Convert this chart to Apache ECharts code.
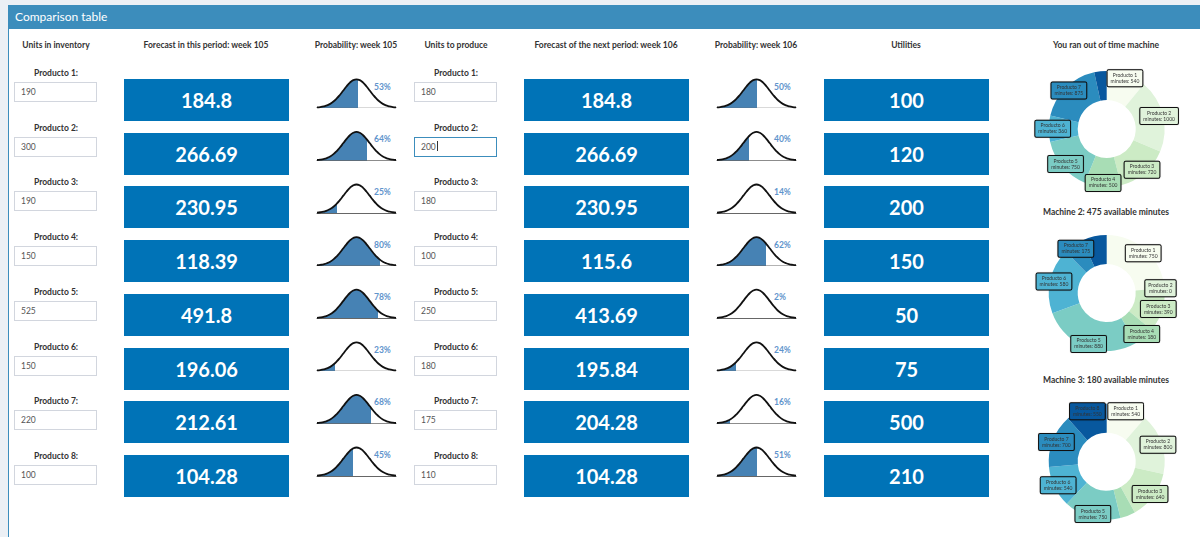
<!DOCTYPE html>
<html>
<head>
<meta charset="utf-8">
<script src="https://cdn.jsdelivr.net/npm/echarts@6/dist/echarts.min.js"></script>
<style>
  body { margin: 0; width: 1200px; height: 537px; overflow: hidden; background: #ecf0f5; position: relative;
         font-family: Lato, "Open Sans", sans-serif; color: #333; }
  .box { position: absolute; left: 8px; top: 5px; width: 1200px; height: 540px; background: #fff;
         border-left: 1px solid #3c8dbc; }
  .box-header { height: 24px; background: #3c8dbc; color: #fff; font-size: 12px; line-height: 24px; padding-left: 6px; }
  .abs { position: absolute; white-space: nowrap; }
  .hd { font-weight: bold; font-size: 8.5px; width: 240px; margin-left: -120px; text-align: center; line-height: 12px; }
  .lbl { font-weight: bold; font-size: 8.5px; width: 100px; margin-left: -50px; text-align: center; line-height: 12px; }
  .inp { border: 1px solid #d2d6de; background: #fff; font-size: 8.5px; color: #555;
         line-height: 18px; padding-left: 6px; box-sizing: border-box; width: 83px; height: 20px; }
  .inp.focus { border-color: #3c8dbc; }
  .caret { display: inline-block; width: 1px; height: 10px; background: #333; vertical-align: -1px; margin-left: 1px; }
  .val { width: 165px; height: 42px; background: #0073b7; color: #fff; font-weight: bold; font-size: 20px;
         line-height: 42px; text-align: center; }
  .pct { font-weight: bold; font-size: 8.5px; color: #5f94cc; line-height: 10px; }
  #chart { position: absolute; left: 0; top: 0; width: 1200px; height: 537px; z-index: 2; pointer-events: none; }
</style>
</head>
<body>
<div class="box"><div class="box-header">Comparison table</div></div>
<div id="layer"></div>
<div id="chart"></div>
<script>
// datos de la tabla
var products = ['Producto 1', 'Producto 2', 'Producto 3', 'Producto 4', 'Producto 5', 'Producto 6', 'Producto 7', 'Producto 8'];
var inventory = [190, 300, 190, 150, 525, 150, 220, 100];
var forecast105 = ['184.8', '266.69', '230.95', '118.39', '491.8', '196.06', '212.61', '104.28'];
var prob105 = [53, 64, 25, 80, 78, 23, 68, 45];
// hasta donde llega el sombreado de cada curva (en desviaciones)
var shade105 = [0.1, 0.8, -1.5, 1.75, 1.65, -1.6, 1.1, -0.3];
var produce = [180, 200, 180, 100, 250, 180, 175, 110];
var forecast106 = ['184.8', '266.69', '230.95', '115.6', '413.69', '195.84', '204.28', '104.28'];
var prob106 = [50, 40, 14, 62, 2, 24, 16, 51];
var shade106 = [0, -0.55, -2.6, 0.7, -4, -1.55, -2.0, 0.05];
var utilities = [100, 120, 200, 150, 50, 75, 500, 210];

// curva normal de referencia
var densityX = [-3, -2.75, -2.5, -2.25, -2, -1.75, -1.5, -1.25, -1, -0.75, -0.5, -0.25, 0,
                0.25, 0.5, 0.75, 1, 1.25, 1.5, 1.75, 2, 2.25, 2.5, 2.75, 3];
var densityY = [0.0044, 0.0091, 0.0175, 0.0317, 0.0540, 0.0863, 0.1295, 0.1826, 0.2420, 0.3011, 0.3521, 0.3867, 0.3989,
                0.3867, 0.3521, 0.3011, 0.2420, 0.1826, 0.1295, 0.0863, 0.0540, 0.0317, 0.0175, 0.0091, 0.0044];

// minutos por maquina
var machineTitles = ['You ran out of time machine', 'Machine 2: 475 available minutes', 'Machine 3: 180 available minutes'];
var minutes1 = [540, 1000, 720, 500, 750, 360, 875, 170];
var minutes2 = [750, 0, 390, 180, 880, 580, 175, 220];
var minutes3 = [540, 800, 640, 200, 750, 540, 700, 550];

var palette = ['#f7fcf0', '#e0f3db', '#ccebc5', '#a8ddb5', '#7bccc4', '#4eb3d3', '#2b8cbe', '#08589e'];

// ---------- parte html ----------
var layer = document.getElementById('layer');
function add(cls, x, y, html) {
    var d = document.createElement('div');
    d.className = 'abs ' + cls;
    d.style.left = x + 'px';
    d.style.top = y + 'px';
    d.innerHTML = html;
    layer.appendChild(d);
    return d;
}
var headers = [
    ['Units in inventory', 56], ['Forecast in this period: week 105', 206], ['Probability: week 105', 356],
    ['Units to produce', 456], ['Forecast of the next period: week 106', 606], ['Probability: week 106', 756],
    ['Utilities', 906]
];
headers.forEach(function(h) { add('hd', h[1], 39, h[0]) });
machineTitles.forEach(function(t, k) { add('hd', 1106, [39, 206, 374][k], t) });

products.forEach(function(p, i) {
    var ly = 67 + i * 54.7;
    add('lbl', 56, ly, p + ':');
    add('lbl', 456, ly, p + ':');
    add('inp', 14, ly + 15, inventory[i]);
    var inp = add('inp', 414, ly + 15, produce[i] + (i == 1 ? '<span class="caret"></span>' : ''));
    if (i == 1) inp.classList.add('focus');

    var by = 79 + i * 53.7;
    add('val', 124, by, forecast105[i]);
    add('val', 524, by, forecast106[i]);
    add('val', 824, by, utilities[i]);

    var base = 107.7 + i * 52.6;
    add('pct', 374, base - 26, prob105[i] + '%');
    add('pct', 774, base - 26, prob106[i] + '%');
});

// ---------- curvas y donas ----------
var myChart = echarts.init(document.getElementById('chart'));
var curveData = densityX.map(function(x, j) { return [x, densityY[j]] });
var grid = [], xAxis = [], yAxis = [], series = [], visualMap = [];

function addCurve(left, base, cut) {
    var k = grid.length;
    grid.push({ left: left, top: base - 28.4, width: 79, height: 28.4 });
    xAxis.push({
        type: 'value', gridIndex: k, min: -3, max: 3,
        axisLine: { show: true, lineStyle: { color: '#666', width: 1 } },
        axisTick: { show: false }, axisLabel: { show: false }, splitLine: { show: false }
    });
    yAxis.push({ type: 'value', gridIndex: k, min: 0, max: 0.3989, show: false });
    series.push({
        type: 'line', xAxisIndex: k, yAxisIndex: k, data: curveData, smooth: true,
        showSymbol: false, clip: false, silent: true,
        lineStyle: { color: '#111', width: 1.8 },
        areaStyle: { opacity: 1 }
    });
    // el sombreado azul va hasta el corte
    visualMap.push({
        type: 'piecewise', show: false, seriesIndex: k, dimension: 0,
        pieces: [{ lt: cut, color: '#4682b4' }, { gte: cut, lte: 3.5, color: '#ffffff' }],
        outOfRange: { color: '#ffffff' }
    });
}
products.forEach(function(p, i) {
    addCurve(317, 107.7 + i * 52.6, shade105[i]);
    addCurve(717, 107.7 + i * 52.6, shade106[i]);
});

[minutes1, minutes2, minutes3].forEach(function(mins, k) {
    var cy = [129, 293, 461.7][k];
    var slices = products.map(function(p, i) {
        return { name: p, value: mins[i], itemStyle: { color: palette[i] } };
    });
    series.push({
        type: 'pie', center: [1106.7, cy], radius: [29, 58], silent: true,
        startAngle: 90, label: { show: false }, labelLine: { show: false }, data: slices
    });
    // serie invisible solo para las etiquetas
    series.push({
        type: 'pie', center: [1106.7, cy], radius: [44, 58], silent: true, startAngle: 90,
        itemStyle: { color: 'rgba(0,0,0,0)' },
        labelLine: { show: false },
        label: {
            show: true, position: 'inside', formatter: '{b}\nminutes: {c}',
            fontSize: 5, lineHeight: 6, color: '#333', fontFamily: 'Lato',
            borderColor: '#111', borderWidth: 1, borderRadius: 1, padding: [2, 3],
            shadowColor: 'rgba(0,0,0,0.4)', shadowBlur: 1
        },
        data: products.map(function(p, i) {
            return { name: p, value: mins[i], label: { backgroundColor: palette[i] } };
        })
    });
});

var option = {
    animation: false,
    grid: grid, xAxis: xAxis, yAxis: yAxis, visualMap: visualMap, series: series
};
myChart.setOption(option);
</script>
</body>
</html>
